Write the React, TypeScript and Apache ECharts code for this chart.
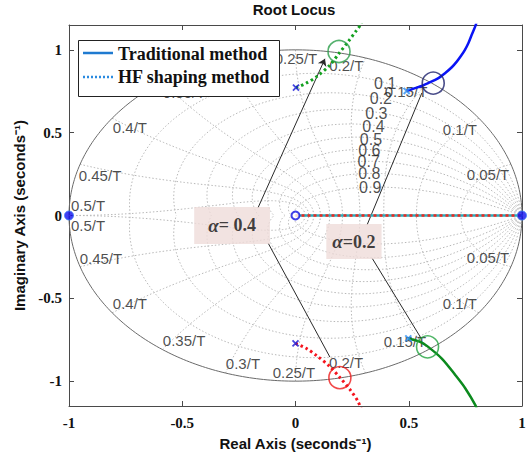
import { useEffect, useRef } from "react";
import * as echarts from "echarts";

// Axis ticks
const xTicks = [-1, -0.5, 0, 0.5, 1];
const yTicks = [-1, -0.5, 0, 0.5, 1];

// z-plane grid: damping ratios and natural frequencies (k * pi / (10 T))
const dampingRatios = [0.1, 0.2, 0.3, 0.4, 0.5, 0.6, 0.7, 0.8, 0.9];
const freqSteps = [1, 2, 3, 4, 5, 6, 7, 8, 9, 10];

// Grid labels (text, real, imag)
const freqLabelText = ["0.05/T", "0.1/T", "0.15/T", "0.2/T", "0.25/T", "0.3/T", "0.35/T", "0.4/T", "0.45/T", "0.5/T"];
const freqLabelUpper = [
  [0.85, 0.245], [0.726, 0.517], [0.488, 0.746], [0.224, 0.906], [0.002, 0.946],
  [-0.232, 0.891], [-0.492, 0.74], [-0.731, 0.529], [-0.863, 0.239], [-0.916, 0.063],
];
const freqLabelLower = [
  [0.85, -0.251], [0.726, -0.529], [0.483, -0.758], [0.223, -0.885], [-0.007, -0.946],
  [-0.232, -0.891], [-0.492, -0.752], [-0.731, -0.529], [-0.859, -0.257], [-0.916, -0.063],
];
const dampingLabelText = ["0.1", "0.2", "0.3", "0.4", "0.5", "0.6", "0.7", "0.8", "0.9"];
const dampingLabelPos = [
  [0.396, 0.795], [0.377, 0.704], [0.357, 0.613], [0.344, 0.537], [0.333, 0.46],
  [0.326, 0.392], [0.323, 0.325], [0.326, 0.251], [0.33, 0.17],
];

// Root loci
const traditionalUpper = [
  [0.491, 0.752], [0.528, 0.769], [0.557, 0.782], [0.586, 0.799], [0.631, 0.829],
  [0.66, 0.859], [0.69, 0.895], [0.712, 0.929], [0.731, 0.964], [0.748, 1.0],
  [0.763, 1.04], [0.778, 1.091], [0.796, 1.151], [0.803, 1.19],
];
const traditionalLower = [
  [0.498, -0.742], [0.55, -0.762], [0.583, -0.79], [0.647, -0.865], [0.706, -0.964],
  [0.75, -1.044], [0.794, -1.145], [0.805, -1.19],
];
const hfUpper = [
  [0.002, 0.772], [0.045, 0.797], [0.095, 0.84], [0.15, 0.905], [0.194, 0.982],
  [0.233, 1.05], [0.268, 1.115], [0.287, 1.151], [0.297, 1.19],
];
const hfLower = [
  [0.0, -0.772], [0.045, -0.8], [0.095, -0.848], [0.15, -0.91], [0.196, -0.978],
  [0.24, -1.05], [0.277, -1.125], [0.295, -1.19],
];
const realAxisBranch = [[0, 0], [1, 0]];

// Poles, zeros and selected operating points
const hfPoles = [[0.002, 0.772], [0.0, -0.772]];
const traditionalPoles = [[0.491, 0.752], [0.498, -0.742]];
const openZero = [[0, 0]];
const filledPoints = [[1, 0], [-1, 0]];
const selectedPoints = [
  { value: [0.608, 0.799], color: "#1b1f6b" },
  { value: [0.192, 0.99], color: "#2a9d4a" },
  { value: [0.583, -0.793], color: "#22a33e" },
  { value: [0.196, -0.979], color: "#ee1c1c" },
];

// Annotations
const annotationBoxes = [
  { value: [-0.28, -0.06], alpha: "= 0.4", pad: [9, 14] },
  { value: [0.258, -0.157], alpha: "=0.2", pad: [8, 6] },
];
const annotationLeaders = [
  { from: [-0.166, 0.045], to: [0.13, 0.946], arrow: true },
  { from: [-0.121, -0.166], to: [0.152, -0.855], arrow: false },
  { from: [0.316, -0.057], to: [0.558, 0.74], arrow: false },
  { from: [0.338, -0.257], to: [0.554, -0.74], arrow: false },
];

const SANS = "'Liberation Sans', Arial, sans-serif";
const SERIF = "'Liberation Serif', 'Times New Roman', serif";

function dampingCurve(zeta: number, sign: number) {
  const pts: number[][] = [];
  const k = zeta / Math.sqrt(1 - zeta * zeta);
  const n = 160;
  for (let i = 0; i <= n; i++) {
    const th = (Math.PI * i) / n;
    const r = Math.exp(-k * th);
    pts.push([r * Math.cos(th), sign * r * Math.sin(th)]);
  }
  return pts;
}

function freqCurve(wT: number, sign: number) {
  const pts: number[][] = [];
  const n = 80;
  for (let i = 0; i <= n; i++) {
    const z = i / n;
    const r = Math.exp(-z * wT);
    const ang = wT * Math.sqrt(1 - z * z);
    pts.push([r * Math.cos(ang), sign * r * Math.sin(ang)]);
  }
  return pts;
}

function unitCircle(sign: number) {
  const pts: number[][] = [];
  const n = 200;
  for (let i = 0; i <= n; i++) {
    const th = (Math.PI * i) / n;
    pts.push([Math.cos(th), sign * Math.sin(th)]);
  }
  return pts;
}

const gridStyle = { color: "#b8b8b8", width: 1, type: [1.5, 2] as number[] };

function gridSeries(data: number[][], style: any) {
  return {
    type: "line",
    data,
    showSymbol: false,
    symbol: "none",
    silent: true,
    z: 1,
    lineStyle: style,
  };
}

export default function App() {
  const ref = useRef<HTMLDivElement>(null);

  useEffect(() => {
    if (!ref.current) return;
    const chart = echarts.init(ref.current, undefined, { renderer: "svg" });

    const series: any[] = [];
    for (const s of [1, -1]) {
      for (const z of dampingRatios) series.push(gridSeries(dampingCurve(z, s), gridStyle));
      for (const k of freqSteps) series.push(gridSeries(freqCurve((k * Math.PI) / 10, s), gridStyle));
      series.push(gridSeries(unitCircle(s), { color: "#6a6a6a", width: 1, type: "solid" }));
    }

    // frequency labels
    series.push({
      type: "scatter",
      data: [
        ...freqLabelText.map((t, i) => ({ name: t, value: freqLabelUpper[i] })),
        ...freqLabelText.map((t, i) => ({ name: t, value: freqLabelLower[i] })),
      ],
      symbolSize: 1,
      silent: true,
      z: 3,
      itemStyle: { color: "rgba(0,0,0,0)" },
      label: {
        show: true,
        position: "inside",
        formatter: "{b}",
        color: "#1e1e1e",
        fontSize: 15,
        fontFamily: SANS,
      },
    });

    // damping ratio labels
    series.push({
      type: "scatter",
      data: dampingLabelText.map((t, i) => ({ name: t, value: dampingLabelPos[i] })),
      symbolSize: 1,
      silent: true,
      z: 3,
      itemStyle: { color: "rgba(0,0,0,0)" },
      label: {
        show: true,
        position: "inside",
        formatter: "{b}",
        color: "#1e1e1e",
        fontSize: 16,
        fontFamily: SANS,
      },
    });

    // leader lines
    series.push({
      type: "line",
      data: [],
      z: 4,
      markLine: {
        silent: true,
        symbol: ["none", "none"],
        symbolSize: 7,
        label: { show: false },
        lineStyle: { color: "#2a2a2a", width: 1, type: "solid" },
        emphasis: { disabled: true },
        data: annotationLeaders.map((l) => [
          { coord: l.from, symbol: "none" },
          { coord: l.to, symbol: l.arrow ? "arrow" : "none", symbolSize: 7 },
        ]),
      },
    });

    // real-axis branch
    series.push({
      type: "line",
      data: realAxisBranch,
      showSymbol: false,
      z: 5,
      lineStyle: { color: "#29aebd", width: 2.5, type: "solid" },
    });
    series.push({
      type: "line",
      data: realAxisBranch,
      showSymbol: false,
      z: 6,
      lineStyle: { color: "#f0281e", width: 2.5, type: [3, 3] },
    });

    // loci
    series.push({
      type: "line",
      data: traditionalUpper,
      showSymbol: false,
      smooth: 0.3,
      z: 6,
      lineStyle: { color: "#0a14f5", width: 2.5 },
    });
    series.push({
      type: "line",
      data: traditionalLower,
      showSymbol: false,
      smooth: 0.3,
      z: 6,
      lineStyle: { color: "#0c8a1e", width: 2.5 },
    });
    series.push({
      type: "line",
      data: hfUpper,
      showSymbol: false,
      smooth: 0.3,
      z: 6,
      lineStyle: { color: "#14a020", width: 3, type: [2.5, 3] },
    });
    series.push({
      type: "line",
      data: hfLower,
      showSymbol: false,
      smooth: 0.3,
      z: 6,
      lineStyle: { color: "#f5141e", width: 3, type: [2.5, 3] },
    });

    // poles / zeros
    series.push({
      type: "scatter",
      data: hfPoles,
      symbol: "path://M0,0L10,10M10,0L0,10",
      symbolSize: 6,
      z: 7,
      itemStyle: { color: "none", borderColor: "#1818d8", borderWidth: 1.8 },
    });
    series.push({
      type: "scatter",
      data: traditionalPoles,
      symbol: "path://M0,0L10,10M10,0L0,10",
      symbolSize: 6,
      z: 7,
      itemStyle: { color: "none", borderColor: "#2f8ef0", borderWidth: 2 },
    });
    series.push({
      type: "scatter",
      data: openZero,
      symbolSize: 8,
      z: 7,
      itemStyle: { color: "#ffffff", borderColor: "#1010e0", borderWidth: 2 },
    });
    series.push({
      type: "scatter",
      data: filledPoints,
      symbolSize: 9,
      z: 7,
      itemStyle: { color: "#1010f0", borderColor: "#3a7ff5", borderWidth: 1 },
    });

    // selected operating points
    series.push({
      type: "scatter",
      data: selectedPoints.map((p) => ({
        value: p.value,
        itemStyle: { color: "rgba(0,0,0,0)", borderColor: p.color, borderWidth: 1.6 },
      })),
      symbolSize: 22,
      z: 8,
    });

    // annotation boxes
    series.push({
      type: "scatter",
      data: annotationBoxes.map((b) => ({
        value: b.value,
        label: {
          show: true,
          position: "inside",
          formatter: `{a|α}{b|${b.alpha}}`,
          backgroundColor: "#efdcda",
          padding: b.pad,
          rich: {
            a: { fontFamily: SERIF, fontSize: 19, fontStyle: "italic", fontWeight: "bold", color: "#111" },
            b: { fontFamily: SERIF, fontSize: 18, fontWeight: "bold", color: "#111" },
          },
        },
      })),
      symbolSize: 1,
      silent: true,
      z: 9,
      itemStyle: { color: "rgba(0,0,0,0)" },
    });

    const axisLineStyle = { color: "#4a4a4a", width: 1 };

    chart.setOption({
      animation: false,
      grid: { left: 69, right: 10, top: 25, bottom: 54, containLabel: false },
      xAxis: [
        {
          type: "value",
          min: -1,
          max: 1,
          interval: 0.5,
          position: "bottom",
          name: "Real Axis (seconds⁻¹)",
          nameLocation: "middle",
          nameGap: 30,
          nameTextStyle: { fontFamily: SANS, fontWeight: "bold", fontSize: 15, color: "#111" },
          axisLine: { show: true, onZero: false, lineStyle: axisLineStyle },
          axisTick: { show: true, inside: true, length: 5, lineStyle: axisLineStyle, customValues: xTicks },
          axisLabel: {
            customValues: xTicks,
            margin: 9,
            fontFamily: SERIF,
            fontWeight: "bold",
            fontSize: 15,
            color: "#111",
            formatter: (v: number) => String(v),
          },
          splitLine: { show: false },
        },
        {
          type: "value",
          min: -1,
          max: 1,
          interval: 0.5,
          position: "top",
          axisLine: { show: true, onZero: false, lineStyle: axisLineStyle },
          axisTick: { show: true, inside: true, length: 5, lineStyle: axisLineStyle, customValues: xTicks },
          axisLabel: { show: false },
          splitLine: { show: false },
        },
      ],
      yAxis: [
        {
          type: "value",
          min: -1.15,
          max: 1.15,
          position: "left",
          name: "Imaginary Axis (seconds⁻¹)",
          nameLocation: "middle",
          nameGap: 36,
          nameTextStyle: { fontFamily: SANS, fontWeight: "bold", fontSize: 15, color: "#111" },
          axisLine: { show: true, onZero: false, lineStyle: axisLineStyle },
          axisTick: { show: true, inside: true, length: 5, lineStyle: axisLineStyle, customValues: yTicks },
          axisLabel: {
            customValues: yTicks,
            margin: 7,
            fontFamily: SERIF,
            fontWeight: "bold",
            fontSize: 15,
            color: "#111",
            formatter: (v: number) => String(v),
          },
          splitLine: { show: false },
        },
        {
          type: "value",
          min: -1.15,
          max: 1.15,
          position: "right",
          axisLine: { show: true, onZero: false, lineStyle: axisLineStyle },
          axisTick: { show: true, inside: true, length: 5, lineStyle: axisLineStyle, customValues: yTicks },
          axisLabel: { show: false },
          splitLine: { show: false },
        },
      ],
      graphic: [
        {
          type: "text",
          x: 294,
          y: 9,
          z: 100,
          style: {
            text: "Root Locus",
            fontFamily: SANS,
            fontWeight: "bold",
            fontSize: 15,
            fill: "#111",
            align: "center",
            verticalAlign: "middle",
          },
        },
        {
          type: "group",
          z: 100,
          children: [
            {
              type: "rect",
              z: 100,
              shape: { x: 78.5, y: 40.5, width: 201, height: 56 },
              style: { fill: "#ffffff", stroke: "#222", lineWidth: 1 },
            },
            {
              type: "line",
              z: 101,
              shape: { x1: 83, y1: 53, x2: 113, y2: 53 },
              style: { stroke: "#1f7ad0", lineWidth: 2.5 },
            },
            {
              type: "line",
              z: 101,
              shape: { x1: 83, y1: 77, x2: 113, y2: 77 },
              style: { stroke: "#2a8ae0", lineWidth: 2.5, lineDash: [2, 2] },
            },
            {
              type: "text",
              z: 101,
              x: 118,
              y: 54,
              style: {
                text: "Traditional method",
                fontFamily: SERIF,
                fontWeight: "bold",
                fontSize: 18,
                fill: "#111",
                verticalAlign: "middle",
              },
            },
            {
              type: "text",
              z: 101,
              x: 118,
              y: 77,
              style: {
                text: "HF shaping method",
                fontFamily: SERIF,
                fontWeight: "bold",
                fontSize: 18,
                fill: "#111",
                verticalAlign: "middle",
              },
            },
          ],
        },
      ],
      series,
    });

    return () => chart.dispose();
  }, []);

  return (
    <div
      ref={ref}
      style={{ position: "fixed", left: 0, top: 0, width: 532, height: 460, background: "#ffffff" }}
    />
  );
}
